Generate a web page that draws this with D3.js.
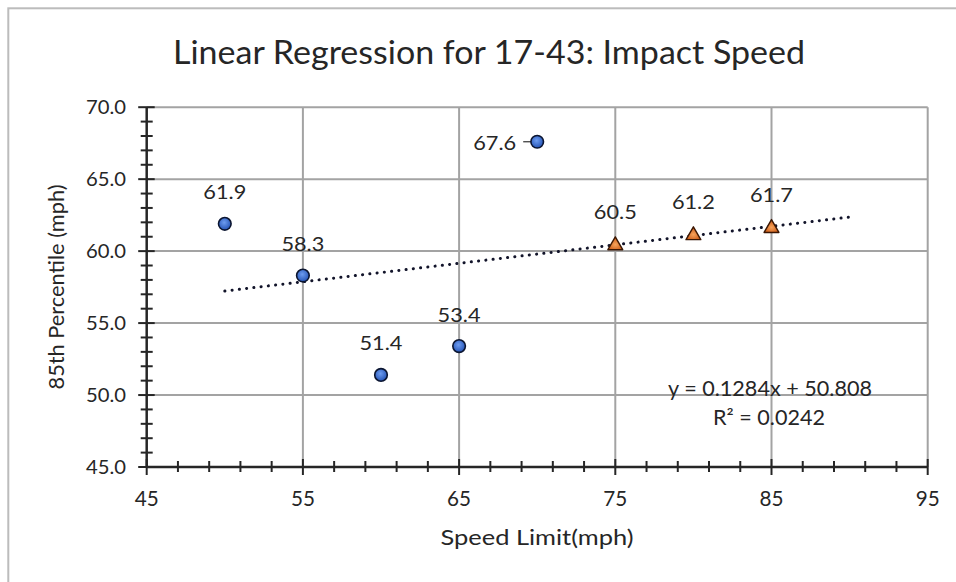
<!DOCTYPE html>
<html>
<head>
<meta charset="utf-8">
<script src="https://cdn.jsdelivr.net/npm/d3@7"></script>
<style>
  body { margin: 0; background: #fff; }
  text { font-family: Lato, "Open Sans", sans-serif; fill: #262626; }
</style>
</head>
<body>
<div id="chart"></div>
<script>
// Data.
var speedLimits = [50, 55, 60, 65, 70];
var percentiles = [61.9, 58.3, 51.4, 53.4, 67.6];
var highSpeedLimits = [75, 80, 85];
var highPercentiles = [60.5, 61.2, 61.7];
var trendSlope = 0.1284, trendIntercept = 50.808, trendR2 = 0.0242;
var trendRange = [50, 90];
var xTicks = [45, 55, 65, 75, 85, 95];
var yTicks = [45, 50, 55, 60, 65, 70];

var width = 956, height = 582;
var m = { left: 146.7, right: 927.7, top: 107.2, bottom: 467 };

var svg = d3.select("#chart").append("svg")
    .attr("width", width)
    .attr("height", height);

// The reference font is a little wider than Lato, so stretch text to width.
function stretch(sel, w) {
  sel.attr("textLength", w).attr("lengthAdjust", "spacingAndGlyphs");
}

// Gradients for the markers.
var defs = svg.append("defs");
var gb = defs.append("radialGradient").attr("id", "gblue").attr("cx", "45%").attr("cy", "40%").attr("r", "60%");
gb.append("stop").attr("offset", "0%").attr("stop-color", "#6d9cf0");
gb.append("stop").attr("offset", "100%").attr("stop-color", "#2453b5");
var go = defs.append("radialGradient").attr("id", "gorange").attr("cx", "50%").attr("cy", "60%").attr("r", "60%");
go.append("stop").attr("offset", "0%").attr("stop-color", "#f7a45c");
go.append("stop").attr("offset", "100%").attr("stop-color", "#c6500c");

// Chart border.
svg.append("rect")
    .attr("x", 8.3).attr("y", 8.3)
    .attr("width", 960).attr("height", 600)
    .attr("fill", "none")
    .attr("stroke", "#bcbcbc")
    .attr("stroke-width", 2);

var x = d3.scaleLinear().domain([45, 95]).range([m.left, m.right]);
var y = d3.scaleLinear().domain([45, 70]).range([m.bottom, m.top]);

// Gridlines.
svg.append("g").selectAll("line")
    .data(yTicks.slice(1))
    .enter().append("line")
    .attr("x1", m.left).attr("x2", m.right)
    .attr("y1", function(d) { return y(d); })
    .attr("y2", function(d) { return y(d); })
    .attr("stroke", "#a3a3a3").attr("stroke-width", 2);
svg.append("g").selectAll("line")
    .data(xTicks.slice(1))
    .enter().append("line")
    .attr("y1", m.top).attr("y2", m.bottom)
    .attr("x1", function(d) { return x(d); })
    .attr("x2", function(d) { return x(d); })
    .attr("stroke", "#a3a3a3").attr("stroke-width", 2);

// Axes: ticks crossing the line.
var xMinor = d3.range(45, 95.1, 2).filter(function(d) { return (d - 45) % 10 != 0; });
var yMinor = d3.range(45, 70.1, 1).filter(function(d) { return d % 5 != 0; });
var axisColor = "#262626";

var gx = svg.append("g");
gx.append("line")
    .attr("x1", m.left).attr("x2", m.right)
    .attr("y1", m.bottom).attr("y2", m.bottom)
    .attr("stroke", axisColor).attr("stroke-width", 2.5);
gx.selectAll(".maj").data(xTicks).enter().append("line")
    .attr("x1", function(d) { return x(d); }).attr("x2", function(d) { return x(d); })
    .attr("y1", m.bottom - 8).attr("y2", m.bottom + 8)
    .attr("stroke", axisColor).attr("stroke-width", 2);
gx.selectAll(".min").data(xMinor).enter().append("line")
    .attr("x1", function(d) { return x(d); }).attr("x2", function(d) { return x(d); })
    .attr("y1", m.bottom - 6).attr("y2", m.bottom + 5)
    .attr("stroke", axisColor).attr("stroke-width", 2);
gx.selectAll("text").data(xTicks).enter().append("text")
    .attr("x", function(d) { return x(d); })
    .attr("y", 498.5)
    .attr("dy", "0.36em")
    .attr("text-anchor", "middle")
    .style("font-size", "20.5px")
    .text(function(d) { return d; })
    .call(stretch, 24);

var gy = svg.append("g");
gy.append("line")
    .attr("x1", m.left).attr("x2", m.left)
    .attr("y1", m.top).attr("y2", m.bottom)
    .attr("stroke", axisColor).attr("stroke-width", 2.5);
gy.selectAll(".maj").data(yTicks).enter().append("line")
    .attr("x1", m.left - 8.5).attr("x2", m.left + 8)
    .attr("y1", function(d) { return y(d); }).attr("y2", function(d) { return y(d); })
    .attr("stroke", axisColor).attr("stroke-width", 2);
gy.selectAll(".min").data(yMinor).enter().append("line")
    .attr("x1", m.left - 6).attr("x2", m.left + 6)
    .attr("y1", function(d) { return y(d); }).attr("y2", function(d) { return y(d); })
    .attr("stroke", axisColor).attr("stroke-width", 2);
gy.selectAll("text").data(yTicks).enter().append("text")
    .attr("x", 126)
    .attr("y", function(d) { return y(d); })
    .attr("dy", "0.36em")
    .attr("text-anchor", "end")
    .style("font-size", "18.5px")
    .text(function(d) { return d.toFixed(1); })
    .call(stretch, 40);

// Trendline.
svg.append("line")
    .attr("x1", x(trendRange[0]))
    .attr("y1", y(trendSlope * trendRange[0] + trendIntercept))
    .attr("x2", x(trendRange[1]))
    .attr("y2", y(trendSlope * trendRange[1] + trendIntercept))
    .attr("stroke", "#12142a")
    .attr("stroke-width", 3)
    .attr("stroke-linecap", "round")
    .attr("stroke-dasharray", "0.1 7.2");

// Leader line for the 67.6 label.
svg.append("line")
    .attr("x1", x(70) - 14).attr("x2", x(70))
    .attr("y1", y(67.6)).attr("y2", y(67.6))
    .attr("stroke", "#404040").attr("stroke-width", 1.3);

// Circles.
svg.append("g").selectAll("circle")
    .data(speedLimits)
    .enter().append("circle")
    .attr("cx", function(d) { return x(d); })
    .attr("cy", function(d, i) { return y(percentiles[i]); })
    .attr("r", 6.3)
    .attr("fill", "url(#gblue)")
    .attr("stroke", "#0b1530")
    .attr("stroke-width", 1.6);

// Triangles, centred on their bounding box like Excel markers.
var tri = d3.symbol().type(d3.symbolTriangle).size(95);
svg.append("g").selectAll("path")
    .data(highSpeedLimits)
    .enter().append("path")
    .attr("d", tri)
    .attr("transform", function(d, i) {
      return "translate(" + x(d) + "," + (y(highPercentiles[i]) + 1.5) + ")";
    })
    .attr("fill", "url(#gorange)")
    .attr("stroke", "#3a1704")
    .attr("stroke-width", 1.4)
    .attr("stroke-linejoin", "round");

// Data labels: above each point, except 67.6 which sits to the left.
var labels = speedLimits.map(function(d, i) { return { x: d, v: percentiles[i] }; })
    .concat(highSpeedLimits.map(function(d, i) { return { x: d, v: highPercentiles[i] }; }));
svg.append("g").selectAll("text")
    .data(labels)
    .enter().append("text")
    .attr("x", function(d) { return d.v == 67.6 ? x(d.x) - 21 : x(d.x); })
    .attr("y", function(d) { return d.v == 67.6 ? y(d.v) + 0.8 : y(d.v) - 31.5; })
    .attr("dy", "0.36em")
    .attr("text-anchor", function(d) { return d.v == 67.6 ? "end" : "middle"; })
    .style("font-size", "19.5px")
    .text(function(d) { return d.v.toFixed(1); })
    .call(stretch, 43);

// Equation.
svg.append("text")
    .attr("x", 770).attr("y", 389)
    .attr("dy", "0.36em")
    .attr("text-anchor", "middle")
    .style("font-size", "20.5px")
    .text("y = " + trendSlope + "x + " + trendIntercept.toFixed(3))
    .call(stretch, 204);
svg.append("text")
    .attr("x", 769).attr("y", 417.5)
    .attr("dy", "0.36em")
    .attr("text-anchor", "middle")
    .style("font-size", "20.5px")
    .text("R\u00b2 = " + trendR2)
    .call(stretch, 112);

// Titles.
svg.append("text")
    .attr("x", 489).attr("y", 63.5)
    .attr("text-anchor", "middle")
    .style("font-size", "33px")
    .text("Linear Regression for 17-43: Impact Speed")
    .call(stretch, 632);
svg.append("text")
    .attr("x", 537).attr("y", 537)
    .attr("dy", "0.36em")
    .attr("text-anchor", "middle")
    .style("font-size", "21px")
    .text("Speed Limit(mph)")
    .call(stretch, 193);
svg.append("text")
    .attr("transform", "translate(56,287) rotate(-90)")
    .attr("dy", "0.36em")
    .attr("text-anchor", "middle")
    .style("font-size", "21px")
    .text("85th Percentile (mph)")
    .call(stretch, 205);
</script>
</body>
</html>
